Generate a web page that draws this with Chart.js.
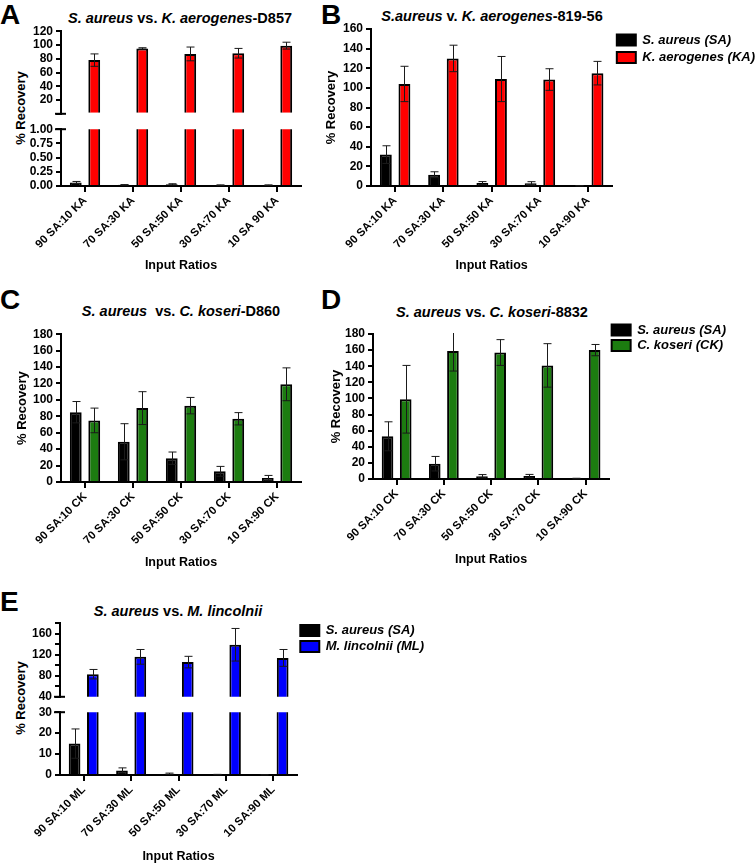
<!DOCTYPE html>
<html>
<head>
<meta charset="utf-8">
<script src="https://cdn.jsdelivr.net/npm/chart.js@4.4.0/dist/chart.umd.min.js"></script>
<style>
  body { margin: 0; width: 755px; height: 865px; overflow: hidden; background: #fff; position: relative;
         font-family: "Liberation Sans", Arial, sans-serif; color: #000; }
  .letra { position: absolute; font-weight: bold; font-size: 28px; line-height: 1; }
  .titulo { position: absolute; font-weight: bold; font-size: 14.5px; line-height: 1; white-space: nowrap; transform: translateX(-50%); }
  .ytit { position: absolute; font-weight: bold; font-size: 13px; line-height: 1; white-space: nowrap;
          transform: translate(-50%, -50%) rotate(-90deg); }
  canvas { position: absolute; }
</style>
</head>
<body>
<div class="letra" style="left:0px;top:1px">A</div>
<div class="letra" style="left:321px;top:1px">B</div>
<div class="letra" style="left:0px;top:286px">C</div>
<div class="letra" style="left:321px;top:286px">D</div>
<div class="letra" style="left:0px;top:588px">E</div>

<div class="titulo" style="left:180px;top:11px"><i>S. aureus</i> vs. <i>K. aerogenes</i>-D857</div>
<div class="titulo" style="left:492px;top:9px"><i>S.aureus</i> v. <i>K. aerogenes</i>-819-56</div>
<div class="titulo" style="left:181px;top:304px"><i>S. aureus</i>&nbsp; vs. <i>C. koseri</i>-D860</div>
<div class="titulo" style="left:492px;top:305px"><i>S. aureus</i> vs. <i>C. koseri</i>-8832</div>
<div class="titulo" style="left:178px;top:604px"><i>S. aureus</i> vs. <i>M. lincolnii</i></div>

<div class="ytit" style="left:19.5px;top:108px">% Recovery</div>
<div class="ytit" style="left:19.5px;top:698px">% Recovery</div>

<script>
// categorias
const ratiosA = ["90 SA:10 KA", "70 SA:30 KA", "50 SA:50 KA", "30 SA:70 KA", "10 SA 90 KA"];
const ratiosB = ["90 SA:10 KA", "70 SA:30 KA", "50 SA:50 KA", "30 SA:70 KA", "10 SA:90 KA"];
const ratiosCK = ["90 SA:10 CK", "70 SA:30 CK", "50 SA:50 CK", "30 SA:70 CK", "10 SA:90 CK"];
const ratiosML = ["90 SA:10 ML", "70 SA:30 ML", "50 SA:50 ML", "30 SA:70 ML", "10 SA:90 ML"];

// A - K. aerogenes D857
const saA = [0.06, 0.02, 0.03, 0.015, 0.015];
const saAErro = [0.02, 0.005, 0.01, 0.005, 0.005];
const kaA = [78, 95, 87, 88, 99];
const kaAErro = [9, 1, 10, 7, 5];

// B - K. aerogenes 819-56
const saB = [32, 11.5, 3, 2.7, 0.3];
const saBErro = [9, 3, 1.5, 1.7, 0.2];
const kaB = [104, 130, 109, 108.5, 115];
const kaBErro = [18, 13.5, 23, 11, 12];

// C - C. koseri D860
const saC = [85, 49, 29, 13, 5];
const saCErro = [13, 22, 7.5, 6, 3];
const ckC = [75, 90, 93, 77, 119];
const ckCErro = [15, 20, 10, 7.5, 20];

// D - C. koseri 8832
const saD = [53, 19, 3.5, 3.7, 0.5];
const saDErro = [18, 9, 2, 2, 0.4];
const ckD = [99, 159, 157, 141, 160];
const ckDErro = [42, 25, 16, 27, 7];

// E - M. lincolnii
const saE = [15, 2.2, 0.6, 0.2, 0.1];
const saEErro = [7, 1.2, 0.3, 0.1, 0.05];
const mlE = [83, 116, 106, 139, 114];
const mlEErro = [9, 14, 11, 31, 16];

const vazio = [null, null, null, null, null];

const corSA = "#000000";
const corKA = "#ff0000";
const corCK = "#1c7c10";
const corML = "#0000ff";

const fonte = "'Liberation Sans', Arial, sans-serif";
Chart.defaults.font.family = fonte;
Chart.defaults.color = "#000";

// barras de erro (SD) desenhadas por cima das barras
const barrasErro = {
  id: "barrasErro",
  afterDatasetsDraw(chart) {
    const ctx = chart.ctx;
    const area = chart.chartArea;
    ctx.save();
    ctx.beginPath();
    ctx.rect(area.left, area.top - 1, area.right - area.left, area.bottom - area.top + 2);
    ctx.clip();
    ctx.strokeStyle = "#1a1a1a";
    ctx.lineWidth = 1;
    chart.data.datasets.forEach((ds, i) => {
      if (!ds.erro) return;
      const meta = chart.getDatasetMeta(i);
      const escala = chart.scales[meta.yAxisID];
      meta.data.forEach((barra, j) => {
        const v = ds.data[j];
        if (v == null) return;
        const e = ds.erro[j];
        const yCima = escala.getPixelForValue(v + e);
        const yBaixo = escala.getPixelForValue(Math.max(v - e, 0));
        const x = Math.round(barra.x) + 0.5;
        ctx.beginPath();
        ctx.moveTo(x, yCima);
        ctx.lineTo(x, yBaixo);
        ctx.moveTo(x - 4, yCima);
        ctx.lineTo(x + 4, yCima);
        ctx.moveTo(x - 4, yBaixo);
        ctx.lineTo(x + 4, yBaixo);
        ctx.stroke();
      });
    });
    ctx.restore();
  }
};

// marquinha da quebra do eixo y (traço horizontal cruzando o eixo)
const quebraEixo = {
  id: "quebraEixo",
  afterDraw(chart, args, opts) {
    if (!opts.lado) return;
    const ctx = chart.ctx;
    const y = opts.lado === "baixo" ? chart.chartArea.bottom : chart.chartArea.top;
    const x = chart.scales.y.right;
    ctx.save();
    ctx.strokeStyle = "#000";
    ctx.lineWidth = 2;
    ctx.beginPath();
    ctx.moveTo(x - 6, y);
    ctx.lineTo(x + 5, y);
    ctx.stroke();
    ctx.restore();
  }
};

function larguraLegenda(textos, pad) {
  const ctx = document.createElement("canvas").getContext("2d");
  ctx.font = "italic bold 13px " + fonte;
  const w = Math.max(...textos.map((t) => ctx.measureText(t).width));
  return pad + 19 + 6.5 + w + 10;
}

function serie(label, data, erro, cor) {
  return {
    label: label,
    data: data,
    erro: erro,
    backgroundColor: cor,
    borderColor: "#000",
    borderWidth: 2,
    categoryPercentage: 0.77,
    barPercentage: 0.64,
    clip: 0,
  };
}

function montaGrafico(c) {
  const canvas = document.createElement("canvas");
  canvas.width = c.w;
  canvas.height = c.h;
  canvas.style.left = c.x + "px";
  canvas.style.top = c.y + "px";
  canvas.style.width = c.w + "px";
  canvas.style.height = c.h + "px";
  document.body.appendChild(canvas);

  const eixoX = c.semX
    ? { display: false }
    : {
        grid: { display: true, drawOnChartArea: false, drawTicks: true, tickLength: 6, offset: false, color: "#000", lineWidth: 2 },
        border: { display: true, color: "#000", width: 2 },
        ticks: { maxRotation: 45, minRotation: 45, autoSkip: false, padding: 2, color: "#000", font: { size: 11.3, weight: "bold" } },
        title: { display: true, text: "Input Ratios", color: "#000", font: { size: 12.5, weight: "bold" }, padding: { top: 4, bottom: 4 } },
        afterFit: (s) => { s.height = c.xH; },
      };

  return new Chart(canvas, {
    type: "bar",
    data: { labels: c.labels, datasets: c.datasets },
    options: {
      responsive: false,
      animation: false,
      layout: { padding: c.pad },
      plugins: {
        tooltip: { enabled: false },
        quebraEixo: { lado: c.quebra },
        // título vazio só para descer a área do gráfico sem descer a legenda
        title: c.folgaTopo
          ? { display: true, text: "", padding: 0, font: { size: c.folgaTopo / 1.2 } }
          : { display: false },
        legend: c.legenda
          ? {
              display: true,
              position: "right",
              align: "start",
              labels: {
                boxWidth: 19,
                boxHeight: 11,
                padding: c.legenda,
                color: "#000",
                font: { size: 13, weight: "bold", style: "italic" },
              },
            }
          : { display: false },
      },
      scales: {
        x: eixoX,
        y: {
          min: c.min,
          max: c.max,
          ticks: { stepSize: c.passo, autoSkip: false, padding: 3, color: "#000", font: { size: 12, weight: "bold" }, callback: c.rotulo },
          grid: { display: true, drawOnChartArea: false, drawTicks: true, tickLength: 5, color: "#000", lineWidth: 2 },
          border: { display: true, color: "#000", width: 2 },
          title: {
            display: c.yTituloX !== undefined,
            text: "% Recovery",
            color: "#000",
            font: { size: 13, weight: "bold" },
            padding: { top: c.yTituloX !== undefined ? c.yTituloX - c.x - (c.pad.left || 0) - 7.8 : 4, bottom: 4 },
          },
          afterFit: (s) => { s.width = c.yW; },
        },
      },
    },
    plugins: [barrasErro, quebraEixo],
  });
}

// a legenda à direita só pode ter 1/4 da largura do canvas (2 caixas verticais),
// por isso o eixo y fica largo e o canvas começa mais à esquerda
function eixoLargo(leg, larguraPlot) {
  return Math.ceil(3 * leg - larguraPlot) + 4;
}

// ---- A (eixo quebrado: parte de cima e parte de baixo)
montaGrafico({
  x: 0, y: 21, w: 305, h: 103, pad: { left: 21, top: 10, right: 4, bottom: 8 }, yW: 40, semX: true, quebra: "baixo",
  labels: ratiosA, min: 0, max: 120, passo: 20,
  rotulo: (v) => (v === 0 ? "" : v),
  datasets: [serie("S. aureus (SA)", vazio, saAErro, corSA), serie("K. aerogenes (KA)", kaA, kaAErro, corKA)],
});
montaGrafico({
  x: 0, y: 119, w: 305, h: 158, pad: { left: 21, top: 10, right: 4, bottom: 0 }, yW: 40, xH: 91, quebra: "cima",
  labels: ratiosA, min: 0, max: 1, passo: 0.25,
  rotulo: (v) => v.toFixed(2),
  datasets: [serie("S. aureus (SA)", saA, saAErro, corSA), serie("K. aerogenes (KA)", kaA, kaAErro, corKA)],
});

// ---- B
const legB = larguraLegenda(["S. aureus (SA)", "K. aerogenes (KA)"], 4.5);
const yWB = eixoLargo(legB, 241);
montaGrafico({
  x: 371 - yWB, y: 18, w: Math.round(yWB + 241 + legB), h: 259, pad: { left: 0, top: 11, right: 0, bottom: 0 }, yW: yWB, xH: 91,
  yTituloX: 331, legenda: 4.5,
  labels: ratiosB, min: 0, max: 160, passo: 20,
  datasets: [serie("S. aureus (SA)", saB, saBErro, corSA), serie("K. aerogenes (KA)", kaB, kaBErro, corKA)],
});

// ---- C
montaGrafico({
  x: 0, y: 324, w: 305, h: 250, pad: { left: 11, top: 10, right: 4, bottom: 0 }, yW: 50, xH: 92,
  yTituloX: 22.5,
  labels: ratiosCK, min: 0, max: 180, passo: 20,
  datasets: [serie("S. aureus (SA)", saC, saCErro, corSA), serie("C. koseri (CK)", ckC, ckCErro, corCK)],
});

// ---- D
const legD = larguraLegenda(["S. aureus (SA)", "C. koseri (CK)"], 2.5);
const yWD = eixoLargo(legD, 236.5);
montaGrafico({
  x: 373 - yWD, y: 321, w: Math.round(yWD + 236.5 + legD), h: 250, pad: { left: 0, top: 0, right: 0, bottom: 0 }, yW: yWD, xH: 92,
  yTituloX: 336, legenda: 2.5, folgaTopo: 13,
  labels: ratiosCK, min: 0, max: 180, passo: 20,
  datasets: [serie("S. aureus (SA)", saD, saDErro, corSA), serie("C. koseri (CK)", ckD, ckDErro, corCK)],
});

// ---- E (eixo quebrado)
const legE = larguraLegenda(["S. aureus (SA)", "M. lincolnii (ML)"], 3);
const yWE = eixoLargo(legE, 237);
montaGrafico({
  x: 60 - yWE, y: 612.7, w: Math.round(yWE + 237 + legE), h: 94, pad: { left: 0, top: 8, right: 0, bottom: 8 }, yW: yWE, semX: true,
  legenda: 3, quebra: "baixo",
  labels: ratiosML, min: 40, max: 180, passo: 20,
  rotulo: (v) => (v % 40 === 0 && v < 180 ? v : ""),
  datasets: [serie("S. aureus (SA)", vazio, saEErro, corSA), serie("M. lincolnii (ML)", mlE, mlEErro, corML)],
});
montaGrafico({
  x: 0, y: 702.3, w: 301, h: 166, pad: { left: 20, top: 10, right: 4, bottom: 0 }, yW: 40, xH: 93, quebra: "cima",
  labels: ratiosML, min: 0, max: 30, passo: 10,
  datasets: [serie("S. aureus (SA)", saE, saEErro, corSA), serie("M. lincolnii (ML)", mlE, mlEErro, corML)],
});
</script>
</body>
</html>
